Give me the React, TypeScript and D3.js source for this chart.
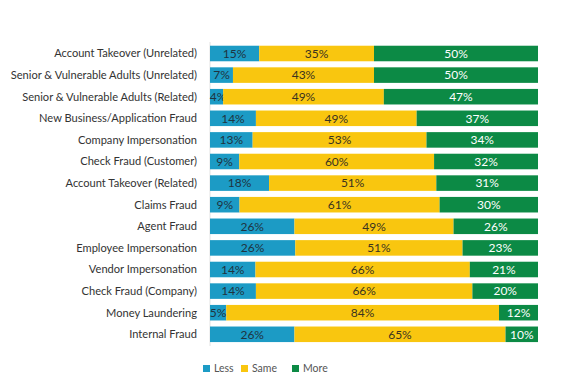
import * as d3 from 'd3';
import { useEffect, useRef } from 'react';

const categories = [
  'Account Takeover (Unrelated)',
  'Senior & Vulnerable Adults (Unrelated)',
  'Senior & Vulnerable Adults (Related)',
  'New Business/Application Fraud',
  'Company Impersonation',
  'Check Fraud (Customer)',
  'Account Takeover (Related)',
  'Claims Fraud',
  'Agent Fraud',
  'Employee Impersonation',
  'Vendor Impersonation',
  'Check Fraud (Company)',
  'Money Laundering',
  'Internal Fraud',
];

const less = [15, 7, 4, 14, 13, 9, 18, 9, 26, 26, 14, 14, 5, 26];
const same = [35, 43, 49, 49, 53, 60, 51, 61, 49, 51, 66, 66, 84, 65];
const more = [50, 50, 47, 37, 34, 32, 31, 30, 26, 23, 21, 20, 12, 10];

const seriesNames = ['Less', 'Same', 'More'];
const seriesColors = ['#1c9bc5', '#f9c60f', '#0c8a45'];
const labelColors = ['#1f3340', '#3a3320', '#ffffff'];

export default function App() {
  const ref = useRef<SVGSVGElement | null>(null);

  useEffect(() => {
    const svg = d3.select(ref.current);
    const width = 565;
    const height = 390;
    svg.selectAll('*').remove();
    svg.attr('width', width).attr('height', height);

    const font = 'Lato, "Noto Sans", sans-serif';
    const rows = categories.map((c, i) => ({ cat: c, vals: [less[i], same[i], more[i]] }));

    const x = d3.scaleLinear().domain([0, 1]).range([210, 538]);
    const y = d3.scaleBand<string>()
      .domain(categories)
      .range([42.7, 345.1])
      .paddingInner(0.28)
      .paddingOuter(0.14);

    // faint axis line
    svg.append('line')
      .attr('x1', 210).attr('x2', 210)
      .attr('y1', 42).attr('y2', 346)
      .attr('stroke', '#e2e2e2').attr('stroke-width', 1);

    const g = svg.append('g');
    rows.forEach(r => {
      const total = d3.sum(r.vals);
      let acc = 0;
      r.vals.forEach((v, k) => {
        const x0 = x(acc / total);
        acc += v;
        const x1 = x(acc / total);
        g.append('rect')
          .attr('x', x0).attr('y', y(r.cat)!)
          .attr('width', x1 - x0).attr('height', y.bandwidth())
          .attr('fill', seriesColors[k]);
        let cx = (x0 + x1) / 2;
        if (k === 0) cx = Math.max(cx, x0 + 8);
        g.append('text')
          .attr('x', cx).attr('y', y(r.cat)! + y.bandwidth() / 2)
          .attr('dy', '0.36em')
          .attr('text-anchor', 'middle')
          .attr('font-family', font).attr('font-size', 12)
          .attr('fill', labelColors[k])
          .text(`${v}%`);
      });
    });

    svg.append('g')
      .selectAll('text')
      .data(categories)
      .join('text')
      .attr('x', 197)
      .attr('y', d => y(d)! + y.bandwidth() / 2)
      .attr('dy', '0.36em')
      .attr('text-anchor', 'end')
      .attr('font-family', font).attr('font-size', 11.1)
      .attr('fill', '#333')
      .text(d => d);

    const legendX = [203, 241, 292];
    const legend = svg.append('g');
    seriesNames.forEach((n, k) => {
      legend.append('rect')
        .attr('x', legendX[k]).attr('y', 365)
        .attr('width', 7).attr('height', 7)
        .attr('fill', seriesColors[k]);
      legend.append('text')
        .attr('x', legendX[k] + 11).attr('y', 368.5)
        .attr('dy', '0.36em')
        .attr('font-family', font).attr('font-size', 10.5)
        .attr('fill', '#555')
        .text(n);
    });
  }, []);

  return <svg ref={ref} style={{ position: 'absolute', left: 0, top: 0 }}></svg>;
}
